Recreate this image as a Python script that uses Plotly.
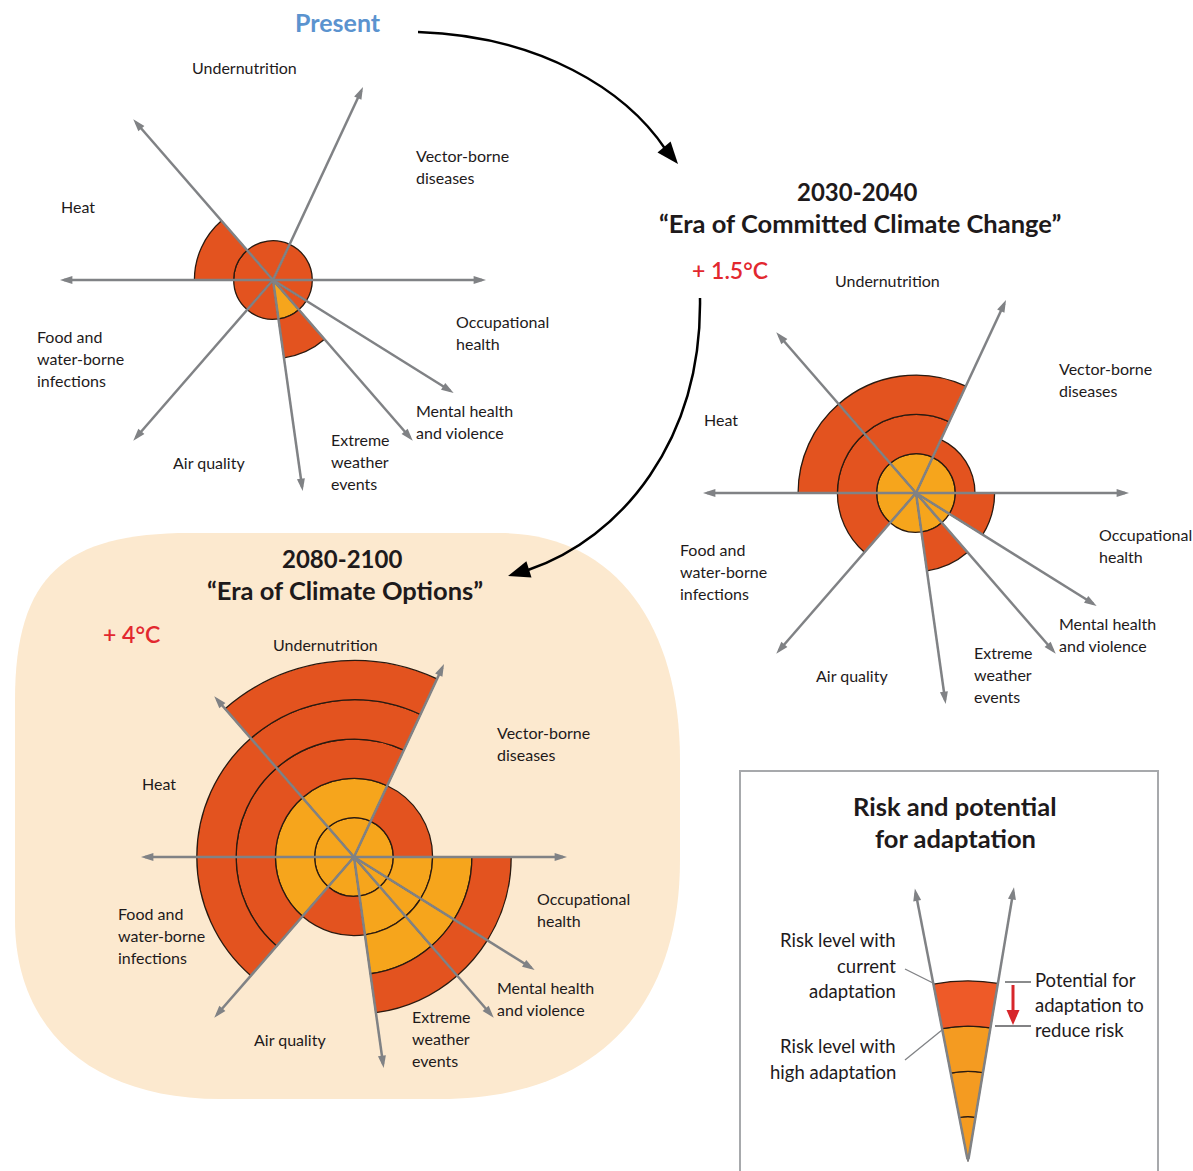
import numpy as np
import plotly.graph_objects as go

W, H = 1193, 1171

# ---------------- data ----------------
categories = ["Vector-borne diseases", "Undernutrition", "Heat",
              "Food and water-borne infections", "Air quality",
              "Extreme weather events", "Mental health and violence",
              "Occupational health"]
sector_start = [0, 65, 131, 180, 229, 278, 311, 328]   # degrees, counter-clockwise from east
sector_end = [65, 131, 180, 229, 278, 311, 328, 360]
axis_angles = [0, 65, 131, 180, 229, 278, 311, 328]

# risk levels: with high adaptation / with current adaptation
present_high = [0, 0, 0, 0, 0, 1, 0, 0]
present_current = [1, 1, 2, 1, 1, 2, 1, 1]
mid_high = [1, 1, 1, 1, 1, 1, 1, 1]
mid_current = [1.5, 3, 3, 2, 1, 2, 1, 2]
late_high = [1, 2, 2, 2, 1, 3, 3, 3]
late_current = [2, 5, 4, 4, 2, 4, 4, 4]

# legend funnel
legend_angles = [80.5, 101]
legend_high = 3
legend_current = 4

label_lines = {
    "Undernutrition": ["Undernutrition"],
    "Vector-borne diseases": ["Vector-borne", "diseases"],
    "Heat": ["Heat"],
    "Food and water-borne infections": ["Food and", "water-borne", "infections"],
    "Occupational health": ["Occupational", "health"],
    "Mental health and violence": ["Mental health", "and violence"],
    "Extreme weather events": ["Extreme", "weather", "events"],
    "Air quality": ["Air quality"],
}
# label offsets (px) from chart centre: first line
label_offsets = {
    "Undernutrition": (-83, -213),
    "Vector-borne diseases": (141, -125),
    "Heat": (-214, -74),
    "Food and water-borne infections": (-238, 56),
    "Occupational health": (181, 41),
    "Mental health and violence": (141, 130),
    "Extreme weather events": (56, 159),
    "Air quality": (-102, 182),
}

RED = "#E3531F"
YEL = "#F6A51C"
LRED = "#EE5A28"
LYEL = "#F49B21"
GRAY = "#808285"
TXT = "#1E1A1B"
FONT = "Lato"

UNIT = 39.3      # px per risk level
RMAX = 5.8
ARROW_LEN = 5.42
RPX = UNIT * RMAX

charts = [
    dict(name="polar", cx=273, cy=280, high=present_high, cur=present_current),
    dict(name="polar2", cx=916, cy=493, high=mid_high, cur=mid_current),
    dict(name="polar3", cx=354, cy=857, high=late_high, cur=late_current),
]

fig = go.Figure()
fig.add_trace(go.Scatter(x=[0], y=[0], mode="markers", marker=dict(opacity=0),
                         hoverinfo="skip", showlegend=False))


def band_bars(high, cur, starts, ends, red, yel):
    th, wd, rr, bb, cc = [], [], [], [], []
    for i in range(len(starts)):
        k = 0
        while k < cur[i] - 1e-9:
            top = min(k + 1, cur[i])
            th.append((starts[i] + ends[i]) / 2)
            wd.append(ends[i] - starts[i])
            bb.append(k)
            rr.append(top - k)
            cc.append(yel if top <= high[i] + 1e-9 else red)
            k += 1
    return th, wd, rr, bb, cc


def add_arrows(subplot, angles, length, size=13, width=2.5):
    for a in angles:
        fig.add_trace(go.Scatterpolar(r=[0, length - 0.1], theta=[a, a], mode="lines",
                                      line=dict(color=GRAY, width=width), subplot=subplot,
                                      hoverinfo="skip", showlegend=False, cliponaxis=False))
    fig.add_trace(go.Scatterpolar(r=[length] * len(angles), theta=angles, mode="markers",
                                  marker=dict(symbol="arrow", size=size, color=GRAY,
                                              angle=[90 - a for a in angles],
                                              line=dict(width=0)),
                                  subplot=subplot, hoverinfo="skip", showlegend=False,
                                  cliponaxis=False))


layout_polars = {}
for ch in charts:
    th, wd, rr, bb, cc = band_bars(ch["high"], ch["cur"], sector_start, sector_end, RED, YEL)
    fig.add_trace(go.Barpolar(theta=th, width=wd, r=rr, base=bb,
                              marker=dict(color=cc, line=dict(color="#2a1a10", width=1.3)),
                              subplot=ch["name"], hoverinfo="skip", showlegend=False))
    add_arrows(ch["name"], axis_angles, ARROW_LEN)
    layout_polars[ch["name"]] = dict(
        domain=dict(x=[(ch["cx"] - RPX) / W, (ch["cx"] + RPX) / W],
                    y=[1 - (ch["cy"] + RPX) / H, 1 - (ch["cy"] - RPX) / H]),
        bgcolor="rgba(0,0,0,0)",
        radialaxis=dict(range=[0, RMAX], visible=False),
        angularaxis=dict(visible=False, rotation=0, direction="counterclockwise"),
    )

# legend funnel polar (sector)
LUNIT = 45.3
LRMAX = 6.5
LR = LUNIT * LRMAX
lcx, lcy = 968, 1162
lth, lwd, lrr, lbb, lcc = band_bars([legend_high], [legend_current], [legend_angles[0]],
                                    [legend_angles[1]], LRED, LYEL)
fig.add_trace(go.Barpolar(theta=lth, width=lwd, r=lrr, base=lbb,
                          marker=dict(color=lcc, line=dict(color="#2a1a10", width=1.2)),
                          subplot="polar4", hoverinfo="skip", showlegend=False))
add_arrows("polar4", legend_angles, 6.15)
layout_polars["polar4"] = dict(
    domain=dict(x=[(lcx - LR / 2) / W, (lcx + LR / 2) / W],
                y=[1 - lcy / H, 1 - (lcy - LR) / H]),
    sector=[60, 120],
    bgcolor="rgba(0,0,0,0)",
    radialaxis=dict(range=[0, LRMAX], visible=False),
    angularaxis=dict(visible=False, rotation=0, direction="counterclockwise"),
)

# ---------------- text ----------------
ann = []


def txt(s, x, y, size=16, color=TXT, weight="normal", xanchor="left"):
    ann.append(dict(text=s, x=x, y=y, xref="x", yref="y", showarrow=False,
                    xanchor=xanchor, yanchor="middle",
                    font=dict(family=FONT, size=size, color=color, weight=weight)))


def lines(ls, x, y0, step=22.3, **kw):
    for j, s in enumerate(ls):
        txt(s, x, y0 + j * step, **kw)


for ch in charts:
    for cat in categories:
        dx, dy = label_offsets[cat]
        lines(label_lines[cat], ch["cx"] + dx, ch["cy"] + dy, size=16)

txt("Present", 338, 22, size=25, color="#5B93CF", weight="bold", xanchor="center")
txt("2030-2040", 857, 191, size=24, weight="bold", xanchor="center")
txt("\u201cEra of Committed Climate Change\u201d", 860, 223, size=25.5, weight="bold",
    xanchor="center")
txt("+ 1.5\u00b0C", 730, 270, size=23, color="#E2282F", weight=600, xanchor="center")
txt("2080-2100", 342, 558, size=24, weight="bold", xanchor="center")
txt("\u201cEra of Climate Options\u201d", 345, 590, size=25.5, weight="bold", xanchor="center")
txt("+ 4\u00b0C", 131, 634, size=23, color="#E2282F", weight=600, xanchor="center")

txt("Risk and potential", 955, 806, size=25.5, weight="bold", xanchor="center")
txt("for adaptation", 955, 838, size=25.5, weight="bold", xanchor="center")
lines(["Risk level with", "current", "adaptation"], 898, 940, step=25.5, size=18.5,
      xanchor="right")
lines(["Risk level with", "high adaptation"], 898, 1046, step=26, size=18.5, xanchor="right")
lines(["Potential for", "adaptation to", "reduce risk"], 1033, 980, step=25, size=18.5)

# ---------------- shapes ----------------
shapes = []
bg_path = ("M 15,700 C 15,575 65,533 190,533 L 500,533 C 612,533 680,622 680,760 "
           "L 680,860 C 680,1012 592,1099 440,1099 L 220,1099 C 92,1099 15,1030 15,920 Z")
shapes.append(dict(type="path", path=bg_path, xref="x", yref="y", layer="below",
                   fillcolor="#FCE9CF", line=dict(width=0)))
shapes.append(dict(type="rect", x0=740, y0=771, x1=1158, y1=1185, xref="x", yref="y",
                   layer="below", fillcolor="white", line=dict(color="#A7A9AC", width=2)))


def head_path(tip, frm, length, width):
    tip = np.array(tip, float)
    d = tip - np.array(frm, float)
    d /= np.linalg.norm(d)
    n = np.array([-d[1], d[0]])
    base = tip - d * length
    p1 = base + n * width / 2
    p2 = base - n * width / 2
    return f"M {tip[0]:.1f},{tip[1]:.1f} L {p1[0]:.1f},{p1[1]:.1f} L {p2[0]:.1f},{p2[1]:.1f} Z"


# curved flow arrows
shapes.append(dict(type="path", path="M 418,32 C 540,36 626,90 666,150", xref="x", yref="y",
                   line=dict(color="black", width=2.5), layer="above"))
shapes.append(dict(type="path", path=head_path((678, 164), (664, 147), 22, 17), xref="x",
                   yref="y", fillcolor="black", line=dict(width=0), layer="above"))
shapes.append(dict(type="path", path="M 700,298 C 702,440 622,538 528,570", xref="x", yref="y",
                   line=dict(color="black", width=2.5), layer="above"))
shapes.append(dict(type="path", path=head_path((508, 576), (530, 569), 22, 17), xref="x",
                   yref="y", fillcolor="black", line=dict(width=0), layer="above"))

# legend leader lines / bracket
for (x0, y0, x1, y1) in [(905, 969, 933, 983), (905, 1060, 942, 1030)]:
    shapes.append(dict(type="line", x0=x0, y0=y0, x1=x1, y1=y1, xref="x", yref="y",
                       line=dict(color=GRAY, width=1.3), layer="above"))
for (x0, x1, y) in [(1005, 1031, 982), (995, 1031, 1026)]:
    shapes.append(dict(type="line", x0=x0, y0=y, x1=x1, y1=y, xref="x", yref="y",
                       line=dict(color="#58595B", width=1.4), layer="above"))
shapes.append(dict(type="line", x0=1013, y0=985, x1=1013, y1=1012, xref="x", yref="y",
                   line=dict(color="#D7262B", width=3), layer="above"))
shapes.append(dict(type="path", path=head_path((1013, 1025), (1013, 1000), 15, 13), xref="x",
                   yref="y", fillcolor="#D7262B", line=dict(width=0), layer="above"))

fig.update_layout(
    width=W, height=H, margin=dict(l=0, r=0, t=0, b=0),
    paper_bgcolor="white", plot_bgcolor="rgba(0,0,0,0)",
    xaxis=dict(range=[0, W], visible=False, domain=[0, 1], fixedrange=True),
    yaxis=dict(range=[H, 0], visible=False, domain=[0, 1], fixedrange=True),
    annotations=ann, shapes=shapes, showlegend=False,
    **layout_polars,
)

fig.write_html("out.html",
               config={"displayModeBar": False, "staticPlot": True},
               post_script="document.body.style.margin='0px';"
                           "document.body.style.overflow='hidden';")
